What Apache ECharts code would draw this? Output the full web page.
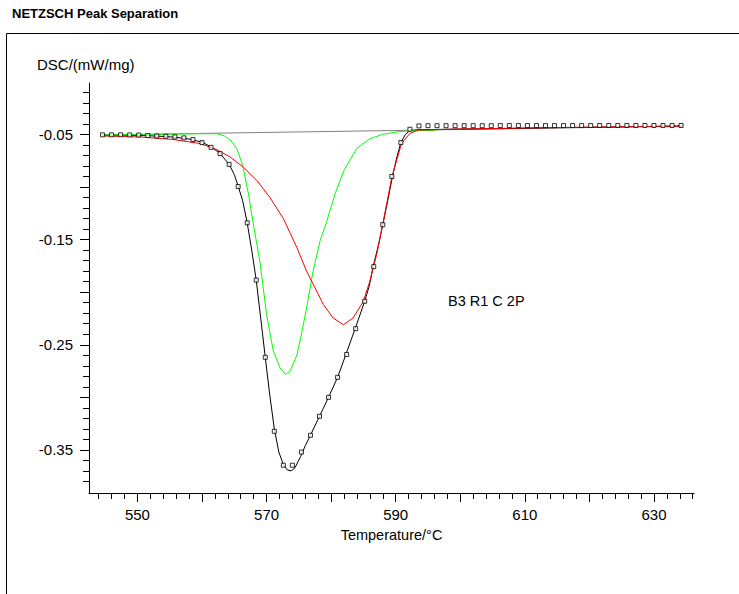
<!DOCTYPE html>
<html>
<head>
<meta charset="utf-8">
<script src="https://cdn.jsdelivr.net/npm/echarts@6/dist/echarts.min.js"></script>
<style>
html,body{margin:0;padding:0;background:#fff;}
#chart{width:739px;height:594px;}
</style>
</head>
<body>
<div id="chart"></div>
<script>
// ---- data (Temperature °C, DSC mW/mg) ----
const measured = [
  [544.5,-0.0505],[548,-0.0506],[551,-0.0510],[554,-0.0518],[556,-0.0527],[558,-0.0543],
  [560,-0.0572],[561.4,-0.0618],[562.8,-0.0680],[564.2,-0.0784],[565,-0.088],[565.6,-0.0990],
  [566.3,-0.113],[567.0,-0.134],[567.7,-0.160],[568.4,-0.1885],[569.1,-0.225],[569.8,-0.262],
  [570.5,-0.298],[571.2,-0.330],[571.9,-0.352],[572.6,-0.364],[573.2,-0.3690],[573.8,-0.3700],
  [574.4,-0.3670],[575.3,-0.356],[576.0,-0.346],[576.8,-0.336],[578.2,-0.318],[579.6,-0.300],
  [581.0,-0.281],[582.3,-0.259],[583.7,-0.235],[585.2,-0.2086],[585.9,-0.194],[586.5,-0.1757],
  [587.3,-0.156],[588.0,-0.1358],[588.8,-0.112],[589.5,-0.0899],[590.2,-0.071],[590.8,-0.0577],
  [591.5,-0.050],[592.2,-0.0462],[593.5,-0.0455],[600,-0.0448],[607.4,-0.0443],[615,-0.0435],
  [622,-0.0430],[628,-0.0424],[634.4,-0.0420]
];
const fitSum = [
  [544.6,-0.0503],[546.0,-0.0503],[547.4,-0.0503],[548.8,-0.0504],[550.2,-0.0505],[551.6,-0.0510],
  [553.0,-0.0514],[554.4,-0.0517],[555.8,-0.0523],[557.2,-0.0532],[558.6,-0.0548],[560.0,-0.0577],
  [561.4,-0.0622],[562.8,-0.0682],[564.2,-0.0784],[565.6,-0.0995],[567.0,-0.1340],[568.4,-0.1885],
  [569.8,-0.2619],[571.2,-0.3323],[572.6,-0.3646],[574.0,-0.3646],[575.4,-0.3521],[576.8,-0.3361],
  [578.2,-0.3180],[579.6,-0.3000],[581.0,-0.2810],[582.4,-0.2593],[583.8,-0.2347],[585.2,-0.2086],
  [586.6,-0.1757],[588.0,-0.1358],[589.4,-0.0899],[590.8,-0.0577],[592.2,-0.0450],[593.6,-0.0418],
  [595.0,-0.0416],[596.4,-0.0416],[597.8,-0.0416],[599.2,-0.0416],[600.6,-0.0416],[602.0,-0.0416],
  [603.4,-0.0416],[604.8,-0.0416],[606.2,-0.0415],[607.6,-0.0415],[609.0,-0.0415],[610.4,-0.0415],
  [611.8,-0.0415],[613.2,-0.0415],[614.6,-0.0415],[616.0,-0.0415],[617.4,-0.0415],[618.8,-0.0415],
  [620.2,-0.0415],[621.6,-0.0414],[623.0,-0.0414],[624.4,-0.0414],[625.8,-0.0414],[627.2,-0.0414],
  [628.6,-0.0414],[630.0,-0.0414],[631.4,-0.0414],[632.8,-0.0414],[634.2,-0.0414]
];
const peak1 = [
  [544.5,-0.0503],[550,-0.0500],[555,-0.0497],[560,-0.0492],[562.3,-0.0492],[563.5,-0.0515],
  [564.5,-0.0560],[565.4,-0.0634],[566.3,-0.0794],[567.2,-0.1065],[568.0,-0.1370],[569.0,-0.1720],
  [570.0,-0.2210],[571.05,-0.2560],[572.1,-0.2720],[572.9,-0.2780],[573.6,-0.2756],[574.7,-0.2596],
  [575.4,-0.2400],[576.2,-0.2150],[577.2,-0.1800],[578.3,-0.1510],[579.3,-0.1330],[580.6,-0.1065],
  [582.0,-0.0840],[584.0,-0.0630],[586.0,-0.0540],[588.0,-0.0498],[590.2,-0.0475],[592.0,-0.0466],
  [596.1,-0.0460]
];
const peak2 = [
  [544.5,-0.0514],[550.4,-0.0523],[555.6,-0.0548],[559.7,-0.0586],[562.3,-0.0644],[564.35,-0.0714],
  [566.4,-0.0810],[568.5,-0.0937],[570.5,-0.1097],[572.6,-0.1300],[573.6,-0.1430],[574.7,-0.1576],
  [576.2,-0.1800],[577.5,-0.1958],[578.8,-0.2117],[580.3,-0.2245],[581.9,-0.2309],[583.4,-0.2245],
  [585.0,-0.2086],[586.0,-0.1894],[587.06,-0.1639],[588.0,-0.1350],[589.4,-0.0906],[590.9,-0.0586],
  [592.2,-0.0490],[593.5,-0.0458],[600,-0.0448],[610,-0.0438],[620,-0.0430],[634.4,-0.0420]
];
const baseline = [[544.5,-0.0504],[589.5,-0.0462],[634.4,-0.0420]];

// ---- ticks ----
const xLabelTicks = [550,570,590,610,630];
const xMajorTicks = [550,560,570,580,590,600,610,620,630];
const xMinorTicks = [];
for (let t = 544; t <= 636; t += 2) xMinorTicks.push(t);
const yLabelTicks = [-0.05,-0.15,-0.25,-0.35];
const yMajorTicks = [-0.05,-0.10,-0.15,-0.20,-0.25,-0.30,-0.35];
const yMinorTicks = [];
for (let i = 1; i <= 38; i++) yMinorTicks.push(-i/100);

const annotation = 'B3 R1 C 2P';
const FONT = 'Liberation Sans, Arial, sans-serif';

const chart = echarts.init(document.getElementById('chart'), null, {renderer:'svg'});
const axisCommon = {
  axisLine:{show:true, lineStyle:{color:'#000', width:1}},
  splitLine:{show:false},
};
chart.setOption({
  animation:false,
  backgroundColor:'#fff',
  title:{
    text:'NETZSCH Peak Separation', left:12, top:7, padding:0,
    textStyle:{fontFamily:FONT, fontSize:13, fontWeight:'bold', color:'#000'}
  },
  graphic:[
    {type:'rect', shape:{x:6.5, y:33.5, width:900, height:900}, style:{fill:'none', stroke:'#000', lineWidth:1}, z:-1},
    {type:'text', x:37, y:64, style:{text:'DSC/(mW/mg)', font:'15px ' + FONT, fill:'#000', textVerticalAlign:'middle'}},
    {type:'text', x:448, y:301, style:{text:annotation, font:'14.5px ' + FONT, fill:'#000', textVerticalAlign:'middle'}}
  ],
  grid:{left:89, right:45, top:83, bottom:101, containLabel:false},
  xAxis:[
    Object.assign({}, axisCommon, {
      type:'value', min:542.5, max:636.2, position:'bottom',
      axisTick:{show:true, customValues:xMinorTicks, length:6, lineStyle:{color:'#000'}},
      axisLabel:{show:true, customValues:xLabelTicks, fontFamily:FONT, fontSize:15, color:'#000', margin:14},
      name:'Temperature/°C', nameLocation:'middle', nameGap:34,
      nameTextStyle:{fontFamily:FONT, fontSize:14.5, color:'#000'}
    }),
    {
      type:'value', min:542.5, max:636.2, position:'bottom', offset:0,
      axisLine:{show:false}, splitLine:{show:false}, axisLabel:{show:false},
      axisTick:{show:true, customValues:xMajorTicks, length:9, lineStyle:{color:'#000'}}
    }
  ],
  yAxis:[
    Object.assign({}, axisCommon, {
      type:'value', min:-0.391, max:-0.001, position:'left',
      axisTick:{show:true, customValues:yMinorTicks, length:6, lineStyle:{color:'#000'}},
      axisLabel:{show:true, customValues:yLabelTicks, fontFamily:FONT, fontSize:15, color:'#000', margin:16,
        formatter:v => v.toFixed(2)}
    }),
    {
      type:'value', min:-0.391, max:-0.001, position:'left', offset:0,
      axisLine:{show:false}, splitLine:{show:false}, axisLabel:{show:false},
      axisTick:{show:true, customValues:yMajorTicks, length:9, lineStyle:{color:'#000'}}
    }
  ],
  series:[
    {type:'line', name:'Baseline', data:baseline, showSymbol:false, lineStyle:{color:'#808080', width:1}, z:1},
    {type:'line', name:'Measured', data:measured, showSymbol:false, lineStyle:{color:'#000', width:1}, z:2},
    {type:'line', name:'Peak 1', data:peak1, showSymbol:false, lineStyle:{color:'#00ff00', width:1}, z:3},
    {type:'line', name:'Peak 2', data:peak2, showSymbol:false, lineStyle:{color:'#ff0000', width:1}, z:4},
    {type:'scatter', name:'Fit', data:fitSum, symbol:'rect', symbolSize:4,
      itemStyle:{color:'#fff', borderColor:'#000', borderWidth:1}, z:5}
  ]
});
</script>
</body>
</html>
